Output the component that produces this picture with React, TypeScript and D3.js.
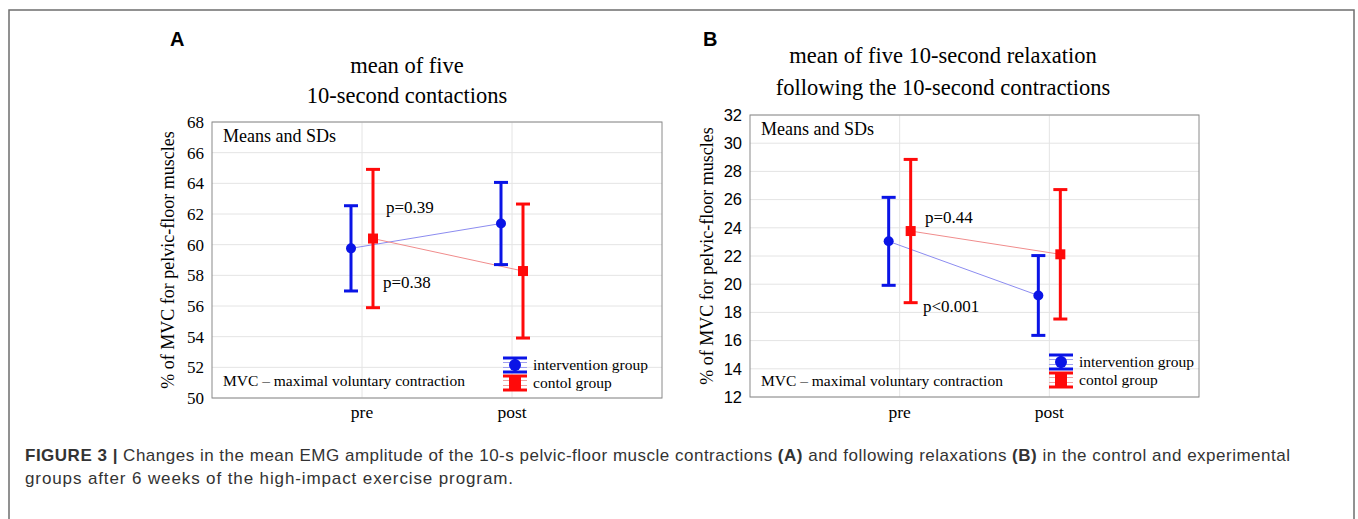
import * as d3 from 'd3';
import React from 'react';

// categories and values (means and SDs)
const categories = ['pre', 'post'];

const interventionMeanA = [59.76, 61.38];
const interventionSdA = [2.78, 2.68];
const controlMeanA = [60.4, 58.28];
const controlSdA = [4.51, 4.37];

const interventionMeanB = [23.04, 19.2];
const interventionSdB = [3.12, 2.83];
const controlMeanB = [23.77, 22.12];
const controlSdB = [5.08, 4.59];

const yTicksA = [50, 52, 54, 56, 58, 60, 62, 64, 66, 68];
const yTicksB = [12, 14, 16, 18, 20, 22, 24, 26, 28, 30, 32];

const legendLabels = ['intervention group', 'contol group'];
const pLabelsA = ['p=0.39', 'p=0.38'];
const pLabelsB = ['p=0.44', 'p<0.001'];

const BLUE = '#0a14e6';
const RED = '#ff0a0a';
const SERIF = '"Liberation Serif", "Times New Roman", serif';
const SANS = '"Liberation Sans", Arial, sans-serif';

const ErrorBar = ({ x, yScale, mean, sd, color, square }) => {
  const cap = 7;
  return (
    <g>
      <line x1={x} x2={x} y1={yScale(mean + sd)} y2={yScale(mean - sd)} stroke={color} strokeWidth={3} />
      <line x1={x - cap} x2={x + cap} y1={yScale(mean + sd)} y2={yScale(mean + sd)} stroke={color} strokeWidth={3} />
      <line x1={x - cap} x2={x + cap} y1={yScale(mean - sd)} y2={yScale(mean - sd)} stroke={color} strokeWidth={3} />
      {square ? (
        <rect x={x - 5} y={yScale(mean) - 5} width={10} height={10} fill={color} />
      ) : (
        <circle cx={x} cy={yScale(mean)} r={5} fill={color} />
      )}
    </g>
  );
};

const LegendItem = ({ x, y, color, light, square, label }) => (
  <g>
    <line x1={x - 12} x2={x + 12} y1={y - 2.5} y2={y - 2.5} stroke={light} strokeWidth={1} />
    <line x1={x - 12} x2={x + 12} y1={y + 2.5} y2={y + 2.5} stroke={light} strokeWidth={1} />
    <line x1={x} x2={x} y1={y - 7} y2={y + 7} stroke={color} strokeWidth={3} />
    <line x1={x - 12} x2={x + 12} y1={y - 7} y2={y - 7} stroke={color} strokeWidth={3} />
    <line x1={x - 12} x2={x + 12} y1={y + 7} y2={y + 7} stroke={color} strokeWidth={3} />
    {square ? (
      <rect x={x - 6} y={y - 6} width={12} height={12} fill={color} />
    ) : (
      <circle cx={x} cy={y} r={6} fill={color} />
    )}
    <text x={x + 18} y={y + 5} fontFamily={SERIF} fontSize={15.5}>
      {label}
    </text>
  </g>
);

const Panel = ({
  letter, letterX, titleLines, titleX, titleY, left, right, top, bottom, ticks, tickFont, tickSize,
  iMean, iSd, cMean, cSd, pLabels, pPos, legendX, legendY, yLabelX,
}) => {
  const x = d3.scalePoint().domain(categories).range([left, right]).padding(1);
  const y = d3.scaleLinear().domain([ticks[0], ticks[ticks.length - 1]]).range([bottom, top]);
  const off = 11;
  const blueLine = d3.line()(categories.map((c, i) => [x(c) - off, y(iMean[i])]));
  const redLine = d3.line()(categories.map((c, i) => [x(c) + off, y(cMean[i])]));

  return (
    <g>
      <text x={letterX} y={46} fontFamily={SANS} fontWeight="bold" fontSize={20}>{letter}</text>
      {titleLines.map((t, i) => (
        <text key={i} x={titleX} y={titleY[i]} textAnchor="middle" fontFamily={SERIF} fontSize={22.5}>{t}</text>
      ))}
      {/* grid */}
      {ticks.map((t) => (
        <line key={t} x1={left} x2={right} y1={y(t)} y2={y(t)} stroke="#e4e4e4" />
      ))}
      {categories.map((c) => (
        <line key={c} x1={x(c)} x2={x(c)} y1={top} y2={bottom} stroke="#e4e4e4" />
      ))}
      <rect x={left} y={top} width={right - left} height={bottom - top} fill="none" stroke="#8a8a8a" />
      {/* y ticks */}
      {ticks.map((t) => (
        <text key={t} x={left - 8} y={y(t) + tickSize * 0.35} textAnchor="end" fontFamily={tickFont} fontSize={tickSize}>{t}</text>
      ))}
      {categories.map((c) => (
        <text key={c} x={x(c)} y={418} textAnchor="middle" fontFamily={SERIF} fontSize={17.5}>{c}</text>
      ))}
      <text
        transform={`translate(${yLabelX},${(top + bottom) / 2}) rotate(-90)`}
        textAnchor="middle"
        fontFamily={SERIF}
        fontSize={18}
      >
        % of MVC for pelvic-floor muscles
      </text>
      {/* connecting lines */}
      <path d={blueLine} stroke="#8c8cf0" strokeWidth={1} fill="none" />
      <path d={redLine} stroke="#f08c8c" strokeWidth={1} fill="none" />
      {categories.map((c, i) => (
        <g key={c}>
          <ErrorBar x={x(c) - off} yScale={y} mean={iMean[i]} sd={iSd[i]} color={BLUE} square={false} />
          <ErrorBar x={x(c) + off} yScale={y} mean={cMean[i]} sd={cSd[i]} color={RED} square={true} />
        </g>
      ))}
      {pLabels.map((p, i) => (
        <text key={p} x={pPos[i][0]} y={pPos[i][1]} fontFamily={SERIF} fontSize={17}>{p}</text>
      ))}
      <text x={left + 11} y={top + 20} fontFamily={SERIF} fontSize={18}>Means and SDs</text>
      <text x={left + 11} y={386} fontFamily={SERIF} fontSize={15.5}>MVC – maximal voluntary contraction</text>
      <LegendItem x={legendX} y={legendY[0]} color={BLUE} light="#a0a0f0" square={false} label={legendLabels[0]} />
      <LegendItem x={legendX} y={legendY[1]} color={RED} light="#f0a0a0" square={true} label={legendLabels[1]} />
    </g>
  );
};

export default function App() {
  return (
    <div style={{ position: 'absolute', left: 0, top: 0 }}>
      <svg width={1358} height={519} style={{ display: 'block', background: '#fff' }}>
        <rect x={9} y={10} width={1345} height={520} fill="none" stroke="#6e6e6e" strokeWidth={1.5} />
        <Panel
          letter="A" letterX={170}
          titleLines={['mean of five', '10-second contactions']} titleX={407} titleY={[73, 103]}
          left={212} right={662} top={122} bottom={398}
          ticks={yTicksA} tickFont={SERIF} tickSize={17}
          iMean={interventionMeanA} iSd={interventionSdA} cMean={controlMeanA} cSd={controlSdA}
          pLabels={pLabelsA} pPos={[[386, 213], [383, 288]]}
          legendX={515} legendY={[365, 383]} yLabelX={174}
        />
        <Panel
          letter="B" letterX={703}
          titleLines={['mean of five 10-second relaxation', 'following the 10-second contractions']} titleX={943} titleY={[63, 95]}
          left={750} right={1199} top={115} bottom={397}
          ticks={yTicksB} tickFont={SANS} tickSize={16.5}
          iMean={interventionMeanB} iSd={interventionSdB} cMean={controlMeanB} cSd={controlSdB}
          pLabels={pLabelsB} pPos={[[925, 223], [923, 312]]}
          legendX={1061} legendY={[362, 380]} yLabelX={713}
        />
        <text x={25} y={461} fontFamily={SANS} fontSize={17} fill="#333" textLength={1265} lengthAdjust="spacing">
          <tspan fontWeight="bold">FIGURE 3 | </tspan>
          Changes in the mean EMG amplitude of the 10-s pelvic-floor muscle contractions{' '}
          <tspan fontWeight="bold">(A)</tspan> and following relaxations <tspan fontWeight="bold">(B)</tspan> in the control and experimental
        </text>
        <text x={25} y={484} fontFamily={SANS} fontSize={17} fill="#333" textLength={488} lengthAdjust="spacing">
          groups after 6 weeks of the high-impact exercise program.
        </text>
      </svg>
    </div>
  );
}
